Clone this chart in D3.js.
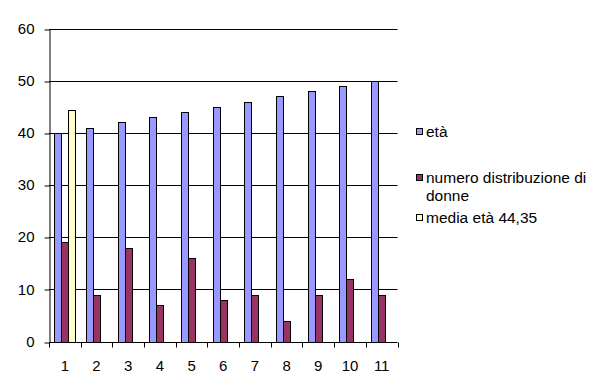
<!DOCTYPE html>
<html><head><meta charset="utf-8">
<script src="https://cdn.jsdelivr.net/npm/d3@7"></script>
<style>body{margin:0;background:#fff}svg{display:block}text{font-family:Arial,"Liberation Sans",sans-serif}</style>
</head><body>
<script>
const categories = ["1","2","3","4","5","6","7","8","9","10","11"];
const eta = [40,41,42,43,44,45,46,47,48,49,50];
const numeroDonne = [19,9,18,7,16,8,9,4,9,12,9];
const mediaEta = [44.35,null,null,null,null,null,null,null,null,null,null];
const seriesNames = ["età","numero distribuzione di donne","media età 44,35"];
const seriesColors = ["#9999FF","#993366","#FFFFCC"];
const yTicks = [0,10,20,30,40,50,60];

const W=603,H=392;
const svg=d3.select("body").append("svg").attr("width",W).attr("height",H);
const x=d3.scaleBand().domain(categories).range([49,397.5]).paddingInner(0).paddingOuter(0);
const y=d3.scaleLinear().domain([0,60]).range([341.5,28.5]);
const series=[eta,numeroDonne,mediaEta];
const bw=x.bandwidth()/(3+1.5);
const off=bw*0.75;

// gridlines
svg.append("g").selectAll("line").data(yTicks.filter(d=>d>0)).join("line")
  .attr("x1",49).attr("x2",397.5).attr("y1",d=>Math.round(y(d))+0.5).attr("y2",d=>Math.round(y(d))+0.5)
  .attr("stroke","#000").attr("stroke-width",1);

// bars
series.forEach((vals,si)=>{
  svg.append("g").selectAll("rect").data(categories.map((c,i)=>({c,v:vals[i]})).filter(d=>d.v!=null)).join("rect")
    .attr("x",d=>Math.round(x(d.c)+off+si*bw)+0.5)
    .attr("width",Math.round(bw))
    .attr("y",d=>Math.round(y(d.v))+0.5)
    .attr("height",d=>Math.round(y(0))-Math.round(y(d.v)))
    .attr("fill",seriesColors[si]).attr("stroke","#000").attr("stroke-width",1);
});

// y axis
const ya=svg.append("g").attr("transform","translate(49.5,0)")
  .call(d3.axisLeft(y).tickValues(yTicks).tickSize(5).tickSizeOuter(0).tickPadding(10));
ya.select(".domain").attr("stroke","#000");
ya.selectAll(".tick line").attr("stroke","#000").attr("transform",d=>`translate(0,${Math.round(y(d))+0.5-y(d)})`);
ya.selectAll("text").attr("font-size","15px").attr("fill","#000").attr("font-family","Arial, 'Liberation Sans', sans-serif");

// x axis
const xa=svg.append("g").attr("transform",`translate(0,${Math.round(y(0))+0.5})`)
  .call(d3.axisBottom(x).tickSize(0).tickPadding(18));
xa.select(".domain").remove();
xa.append("line").attr("x1",49).attr("x2",397.5).attr("stroke","#000");
xa.selectAll(".tick text").attr("font-size","15px").attr("fill","#000").attr("font-family","Arial, 'Liberation Sans', sans-serif");
const edges=categories.map(c=>x(c)).concat([x(categories[categories.length-1])+x.bandwidth()]);
xa.append("g").selectAll("line").data(edges).join("line")
  .attr("x1",d=>Math.round(d)+0.5).attr("x2",d=>Math.round(d)+0.5).attr("y1",0).attr("y2",5).attr("stroke","#000");

// legend
const legItems=[
  {name:["età"],y:132,c:seriesColors[0]},
  {name:["numero distribuzione di","donne"],y:178,c:seriesColors[1]},
  {name:["media età 44,35"],y:218,c:seriesColors[2]}
];
const lg=svg.append("g");
legItems.forEach(it=>{
  lg.append("rect").attr("x",416.5).attr("y",it.y-3.5).attr("width",6).attr("height",6)
    .attr("fill",it.c).attr("stroke","#000");
  const t=lg.append("text").attr("x",426).attr("y",it.y+5).attr("font-size","15.5px").attr("fill","#000");
  it.name.forEach((n,k)=>t.append("tspan").attr("x",426).attr("dy",k?18:0).text(n));
});
</script>
</body></html>
